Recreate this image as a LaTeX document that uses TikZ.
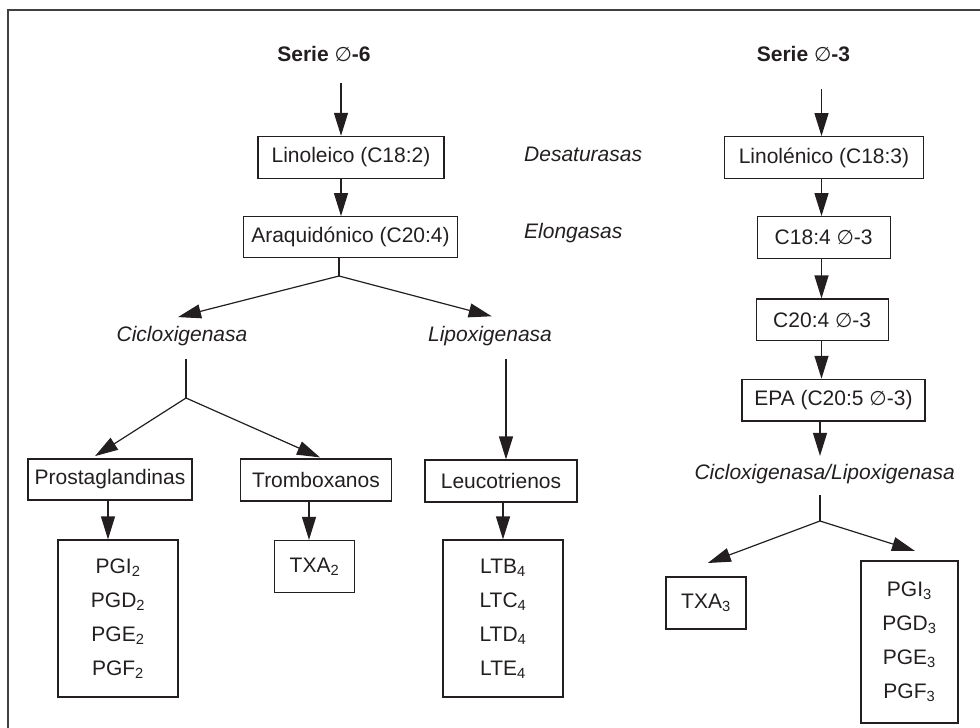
\documentclass[tikz,border=0pt]{standalone}
\usepackage{fontspec}
\setmainfont{Liberation Sans}
\newfontfamily\symfont{DejaVu Sans}[Scale=0.95]
\usetikzlibrary{arrows.meta,calc}
\definecolor{ink}{HTML}{231F20}

\tikzset{
  every node/.style={text=ink, font=\fontsize{21}{25}\selectfont},
  box/.style={draw=ink, line width=1.2pt, inner sep=0pt},
  list/.style={align=center, font=\fontsize{21}{34}\selectfont},
  enz/.style={font=\fontsize{21}{25}\selectfont\itshape, inner sep=0pt, anchor=base},
  serie/.style={font=\fontsize{21}{25}\selectfont\bfseries, inner sep=0pt, anchor=base},
  conn/.style={draw=ink, line width=1.2pt},
  arr/.style={conn, -{Triangle[length=23pt,width=14pt]}},
  frame/.style={draw=black!75, line width=1.6pt}
}
\newcommand{\om}{{\symfont\mdseries\upshape ∅}}

\begin{document}
\begin{tikzpicture}[x=1pt,y=-1pt]
  \useasboundingbox (0,0) rectangle (980,728);
  \clip (0,0) rectangle (980,728);
  \draw[frame] (8,10) rectangle (1000,760);

  % series titles
  \node[serie] (s6) at (324,61) {Serie \om-6};
  \node[serie] (s3) at (803.5,61) {Serie \om-3};

  % omega-6 chain
  \node[box, minimum width=186pt, minimum height=42pt] (lin6) at (351,157.4) {Linoleico (C18:2)};
  \node[box, minimum width=214pt, minimum height=41pt] (ara) at (350.5,237.2) {Araquidónico (C20:4)};
  \node[enz, anchor=base west] (des) at (524,161.7) {Desaturasas};
  \node[enz, anchor=base west] (elo) at (524,238) {Elongasas};
  \node[enz] (cic) at (182,341) {Cicloxigenasa};
  \node[enz] (lip) at (490,341) {Lipoxigenasa};
  \node[box, minimum width=164pt, minimum height=41pt] (pros) at (110,479.5) {Prostaglandinas};
  \node[box, minimum width=151pt, minimum height=42pt] (trom) at (316,480) {Tromboxanos};
  \node[box, minimum width=152pt, minimum height=42pt] (leuc) at (501,481) {Leucotrienos};
  \node[box, list, minimum width=120pt, minimum height=157pt] (pg2) at (118,618.5)
    {PGI\textsubscript{2}\\PGD\textsubscript{2}\\PGE\textsubscript{2}\\PGF\textsubscript{2}};
  \node[box, minimum width=80pt, minimum height=52pt] (txa2) at (314.5,566.5) {TXA\textsubscript{2}};
  \node[box, list, minimum width=120pt, minimum height=157pt] (lt4) at (503,618.5)
    {LTB\textsubscript{4}\\LTC\textsubscript{4}\\LTD\textsubscript{4}\\LTE\textsubscript{4}};

  % omega-3 chain
  \node[box, minimum width=199pt, minimum height=41.6pt] (lin3) at (824,157.5) {Linolénico (C18:3)};
  \node[box, minimum width=133pt, minimum height=41.6pt] (c184) at (823.7,237.5) {C18:4 \om-3};
  \node[box, minimum width=132pt, minimum height=41.7pt] (c204) at (822.2,319.9) {C20:4 \om-3};
  \node[box, minimum width=183pt, minimum height=41.7pt] (epa) at (833.4,400.2) {EPA (C20:5 \om-3)};
  \node[enz] (cl3) at (824.7,479.3) {Cicloxigenasa/Lipoxigenasa};
  \node[box, minimum width=80pt, minimum height=52pt] (txa3) at (706,603) {TXA\textsubscript{3}};
  \node[box, list, minimum width=97pt, minimum height=162pt] (pg3) at (909.4,641.9)
    {PGI\textsubscript{3}\\PGD\textsubscript{3}\\PGE\textsubscript{3}\\PGF\textsubscript{3}};

  % branch points
  \coordinate (a6) at (341,83);
  \coordinate (a3) at (821.5,89);
  \coordinate (f1) at (339,276);
  \coordinate (f2) at (186,398);
  \coordinate (f3) at (820,521);

  % omega-6 connectors
  \draw[arr] (a6) -- (a6 |- lin6.north);
  \draw[arr] (lin6.south -| a6) -- (ara.north -| a6);
  \draw[conn] (ara.south -| f1) -- (f1);
  \draw[arr] (f1) -- ($(cic.north)+(-4,-8.5)$);
  \draw[arr] (f1) -- ($(lip.north)+(1.7,-9.3)$);
  \draw[conn] ([yshift=-13.6pt]cic.south -| f2) -- (f2);
  \draw[arr] (f2) -- ($(pros.north)+(-15,-2.3)$);
  \draw[arr] (f2) -- ($(trom.north)+(4,-1)$);
  \draw[arr] ([xshift=16pt,yshift=-13.6pt]lip.south) -- ([xshift=5pt]leuc.north);
  \draw[arr] ([xshift=-2pt]pros.south) -- ([xshift=-2pt]pros.south |- pg2.north);
  \draw[arr] ([xshift=-7pt]trom.south) -- ([xshift=-7pt]trom.south |- txa2.north);
  \draw[arr] ([xshift=2pt]leuc.south) -- ([xshift=2pt]leuc.south |- lt4.north);

  % omega-3 connectors
  \draw[arr] (a3) -- (a3 |- lin3.north);
  \draw[arr] (lin3.south -| a3) -- (c184.north -| a3);
  \draw[arr] (c184.south -| a3) -- (c204.north -| a3);
  \draw[arr] (c204.south -| a3) -- (epa.north -| a3);
  \draw[arr] (epa.south -| f3) -- ($(cl3.north -| f3)+(0,-8)$);
  \draw[conn] ([yshift=-11.3pt]cl3.south -| f3) -- (f3);
  \draw[arr] (f3) -- ($(txa3.north)+(1.8,-13.4)$);
  \draw[arr] (f3) -- ($(pg3.north)+(5.6,-9.3)$);
\end{tikzpicture}
\end{document}
